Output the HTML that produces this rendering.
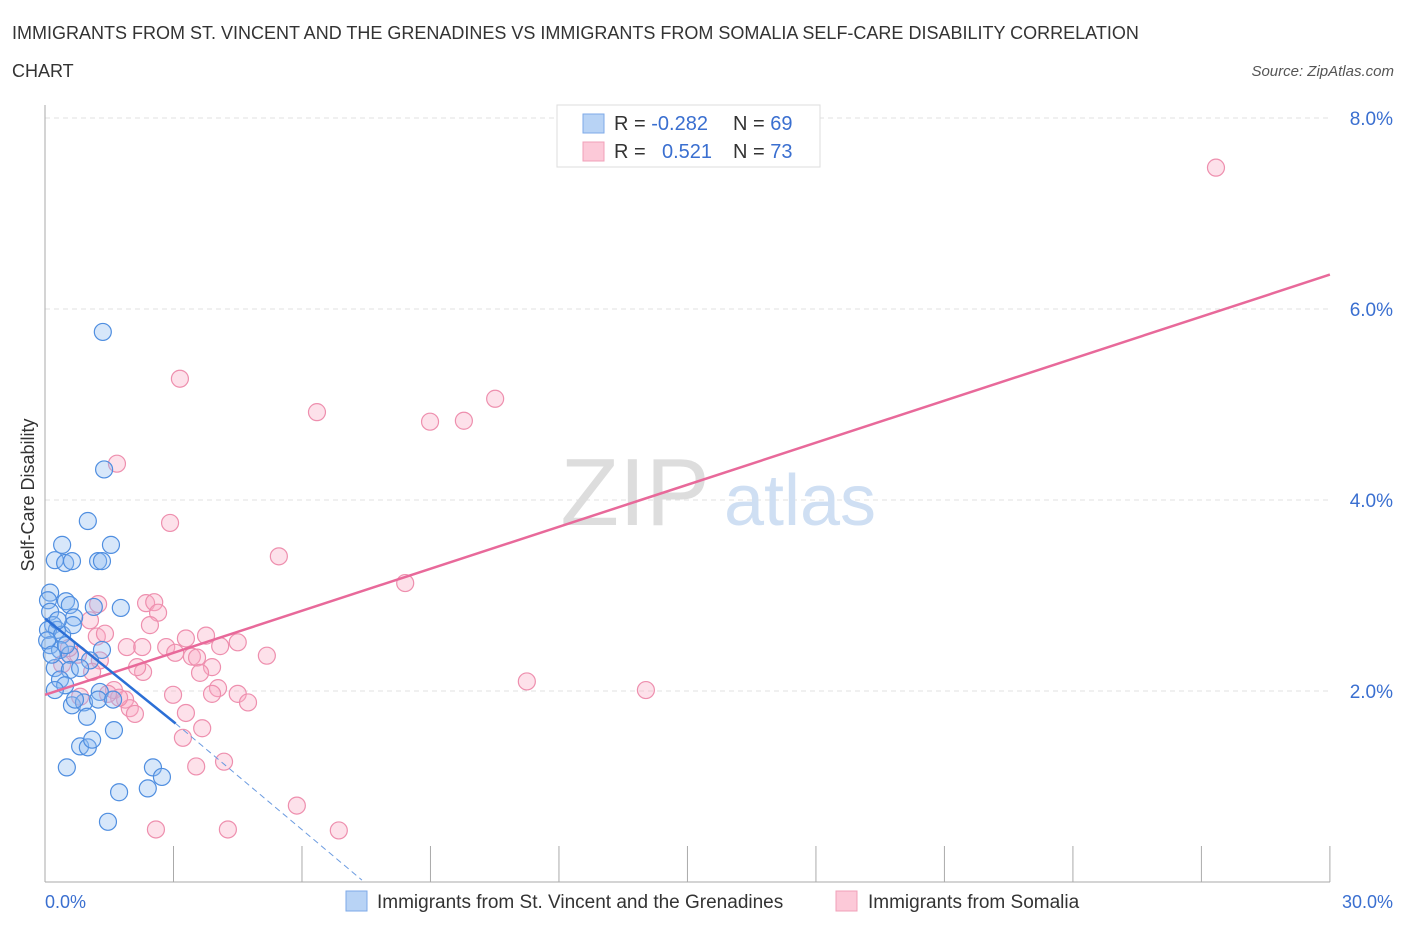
<!DOCTYPE html>
<html><head><meta charset="utf-8"><style>
body{margin:0;background:#fff;font-family:"Liberation Sans",sans-serif;}
svg text{font-family:"Liberation Sans",sans-serif;}
</style></head><body>
<svg id="c" width="1406" height="930">
<text x="12" y="39" font-size="18" fill="#333">IMMIGRANTS FROM ST. VINCENT AND THE GRENADINES VS IMMIGRANTS FROM SOMALIA SELF-CARE DISABILITY CORRELATION</text>
<text x="12" y="77" font-size="18" fill="#333">CHART</text>
<text x="1394" y="76" font-size="15" fill="#555" font-style="italic" text-anchor="end">Source: ZipAtlas.com</text>
<g id="grid"></g>
<text x="635" y="525" font-size="96" fill="#ddd" font-family="Liberation Serif" text-anchor="middle">ZIP</text>
<text x="800" y="525" font-size="72" fill="#cfdff3" text-anchor="middle">atlas</text>
<g id="pts"></g>
<g id="lines"></g>
<text x="34" y="495" font-size="18" fill="#333" text-anchor="middle" transform="rotate(-90 34 495)">Self-Care Disability</text>
<text x="45" y="908" font-size="18" fill="#3a6fd0">0.0%</text>
<text x="1393" y="908" font-size="18" fill="#3a6fd0" text-anchor="end">30.0%</text>
<g>
<rect x="557" y="105" width="263" height="62" fill="#fff" stroke="#ddd"/>
<rect x="583" y="114" width="21" height="19" fill="#b8d3f5" stroke="#7eaae8"/>
<rect x="583" y="142" width="21" height="19" fill="#fcc9d8" stroke="#f1a0b8"/>
<text x="614" y="130" font-size="20" fill="#333">R = <tspan fill="#3a6fd0">-0.282</tspan><tspan x="733">N = </tspan><tspan fill="#3a6fd0">69</tspan></text>
<text x="614" y="158" font-size="20" fill="#333">R = <tspan x="662" fill="#3a6fd0">0.521</tspan><tspan x="733">N = </tspan><tspan fill="#3a6fd0">73</tspan></text>
</g>
<g>
<rect x="346" y="891" width="21" height="20" fill="#b8d3f5" stroke="#7eaae8"/>
<text x="377" y="908" font-size="19" fill="#333">Immigrants from St. Vincent and the Grenadines</text>
<rect x="836" y="891" width="21" height="20" fill="#fcc9d8" stroke="#f1a0b8"/>
<text x="868" y="908" font-size="19" fill="#333">Immigrants from Somalia</text>
</g>
</svg>
<script>
const blueX=[1.35,1.38,1.0,0.40,1.54,0.23,0.47,0.63,1.24,1.33,0.12,0.07,0.49,0.58,1.14,1.77,0.12,0.68,0.19,0.28,0.07,0.40,0.65,0.12,0.35,1.33,0.58,1.05,0.23,0.58,0.82,0.35,0.47,0.23,1.28,0.63,0.91,1.24,1.59,0.98,1.61,0.82,1.0,1.1,0.51,2.52,2.73,2.40,1.73,1.47,0.05,0.16,0.30,0.49,0.70];
const blueY=[5.76,4.32,3.78,3.53,3.53,3.37,3.34,3.36,3.36,3.36,3.03,2.95,2.94,2.90,2.88,2.87,2.83,2.77,2.69,2.64,2.64,2.59,2.69,2.48,2.43,2.43,2.38,2.32,2.24,2.22,2.24,2.12,2.06,2.01,1.99,1.85,1.88,1.91,1.91,1.73,1.59,1.42,1.41,1.49,1.20,1.20,1.10,0.98,0.94,0.63,2.53,2.38,2.74,2.48,1.91];
const pinkX=[27.34,3.15,6.35,10.51,8.99,9.78,1.68,2.92,5.46,8.41,1.24,2.36,2.55,2.64,2.45,1.05,1.21,3.29,3.76,4.50,1.91,2.83,2.27,3.04,3.43,3.55,5.18,4.09,1.28,0.77,0.56,2.29,2.15,3.90,0.40,1.10,3.62,1.61,4.04,3.90,4.50,2.99,0.82,1.87,4.74,1.98,2.10,3.29,3.67,3.22,3.53,4.18,5.88,2.59,4.27,6.86,11.25,14.03,1.73,1.47,1.40];
const pinkY=[7.48,5.27,4.92,5.06,4.82,4.83,4.38,3.76,3.41,3.13,2.91,2.92,2.93,2.82,2.69,2.74,2.57,2.55,2.58,2.51,2.46,2.46,2.46,2.40,2.36,2.35,2.37,2.47,2.32,2.38,2.45,2.20,2.25,2.25,2.28,2.20,2.19,2.01,2.03,1.97,1.97,1.96,1.94,1.91,1.88,1.82,1.76,1.77,1.61,1.51,1.21,1.26,0.80,0.55,0.55,0.54,2.10,2.01,1.93,1.97,2.60];
const yTicks=[2,4,6,8];
const yTickLabels=["2.0%","4.0%","6.0%","8.0%"];
const xTicks=[0,3,6,9,12,15,18,21,24,27,30];
const blueTrend=[[0,2.76],[3.05,1.66],[7.4,0.02]];
const pinkTrend=[[0,1.96],[30,6.36]];
const X=v=>45+v*42.83, Y=v=>882-v*95.5;
const NS="http://www.w3.org/2000/svg";
function mk(t,a,p){const e=document.createElementNS(NS,t);for(const k in a)e.setAttribute(k,a[k]);p.appendChild(e);return e;}
const g=document.getElementById('grid');
yTicks.forEach((t,i)=>{
 const l=mk('line',{x1:45,x2:1330,y1:Y(t),y2:Y(t),stroke:'#e2e2e2','stroke-dasharray':'5,4'},g);
 
 
 const tx=mk('text',{x:1393,y:Y(t)+7,'font-size':19,fill:'#3a6fd0','text-anchor':'end'},g);
 tx.textContent=yTickLabels[i];
 
 
});
const gl=mk('line',{x1:45,x2:45,y1:105,y2:882,stroke:'#aaa'},g);


const xl=mk('line',{x1:45,x2:1330,y1:882,y2:882,stroke:'#aaa'},g);


xTicks.forEach(t=>{const e=mk('line',{x1:X(t),x2:X(t),y1:846,y2:882,stroke:'#aaa'},g);
 
 });
const p=document.getElementById('pts');
pinkX.forEach((v,i)=>{const c=mk('circle',{cx:X(v),cy:Y(pinkY[i]),r:8.5,fill:'rgba(248,170,195,0.35)',stroke:'#ee8fae','stroke-width':1.2},p);
 
 });
blueX.forEach((v,i)=>{const c=mk('circle',{cx:X(v),cy:Y(blueY[i]),r:8.5,fill:'rgba(140,185,240,0.35)',stroke:'#4f8ee0','stroke-width':1.2},p);
 
 });
const L=document.getElementById('lines');
let e=mk('line',{x1:X(pinkTrend[0][0]),y1:Y(pinkTrend[0][1]),x2:X(pinkTrend[1][0]),y2:Y(pinkTrend[1][1]),stroke:'#e8699a','stroke-width':2.5},L);


e=mk('line',{x1:X(blueTrend[0][0]),y1:Y(blueTrend[0][1]),x2:X(blueTrend[1][0]),y2:Y(blueTrend[1][1]),stroke:'#2b6fd6','stroke-width':2.5},L);


e=mk('line',{x1:X(blueTrend[1][0]),y1:Y(blueTrend[1][1]),x2:X(blueTrend[2][0]),y2:Y(blueTrend[2][1]),stroke:'#6b9be0','stroke-width':1,'stroke-dasharray':'6,4'},L);


</script>
</body></html>
